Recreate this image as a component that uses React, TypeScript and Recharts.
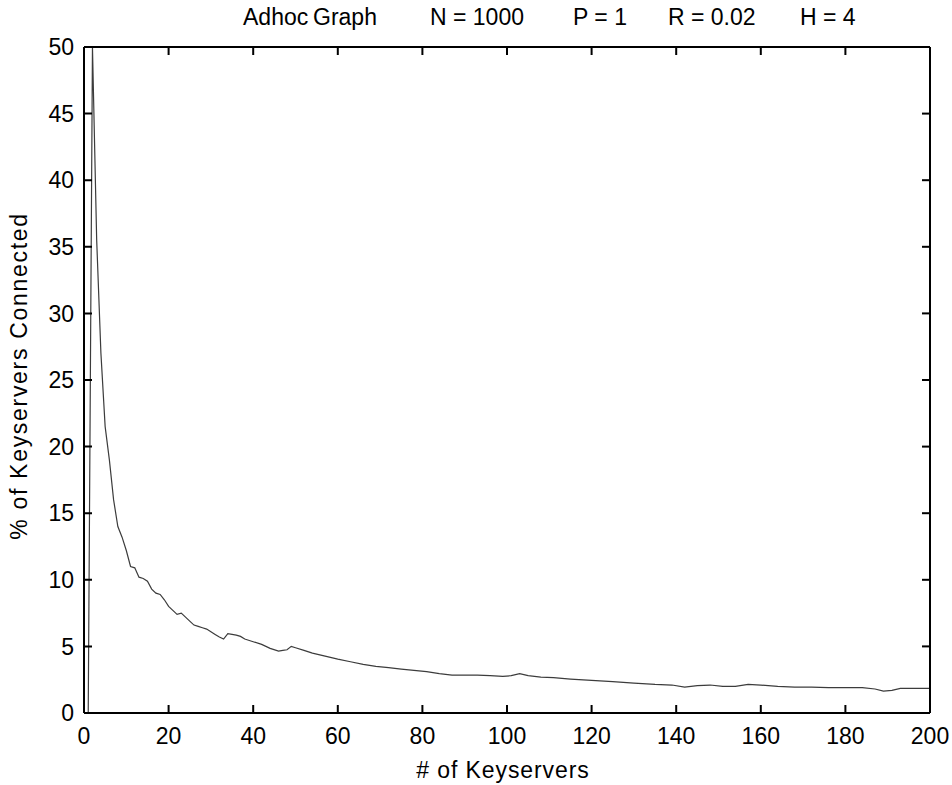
import { Label, Line, LineChart, XAxis, YAxis } from 'recharts'

// # of keyservers (x) and % connected (y)
const keyservers = [
  1, 2, 3, 4, 5, 6, 7, 8, 9, 10, 11, 12, 13, 14, 15, 16, 17, 18, 19, 20, 21, 22, 23, 24, 25, 26,
  27, 28, 29, 30, 31, 32, 33, 34, 35, 36, 37, 38, 40, 42, 44, 46, 47, 48, 49, 50, 52, 54, 56, 58,
  60, 63, 66, 69, 72, 75, 78, 81, 84, 87, 90, 93, 96, 99, 101, 103, 105, 108, 111, 115, 120, 125,
  130, 135, 139, 142, 145, 148, 151, 154, 157, 160, 164, 168, 172, 176, 180, 184, 187, 189, 191,
  193, 196, 200,
]
const pctConnected = [
  0, 50, 35.5, 27, 21.5, 19, 16, 14, 13.2, 12.2, 11, 10.9, 10.2, 10.1, 9.9, 9.3, 9, 8.9, 8.5, 8,
  7.7, 7.4, 7.5, 7.2, 6.9, 6.6, 6.5, 6.4, 6.3, 6.1, 5.9, 5.7, 5.55, 5.95, 5.9, 5.85, 5.75, 5.55,
  5.35, 5.15, 4.85, 4.65, 4.7, 4.75, 5.0, 4.9, 4.7, 4.5, 4.35, 4.2, 4.05, 3.85, 3.65, 3.5, 3.4,
  3.3, 3.2, 3.1, 2.95, 2.85, 2.85, 2.85, 2.8, 2.75, 2.8, 2.95, 2.8, 2.7, 2.65, 2.55, 2.45, 2.35,
  2.25, 2.15, 2.1, 1.95, 2.05, 2.1, 2.0, 2.0, 2.15, 2.1, 2.0, 1.95, 1.95, 1.9, 1.9, 1.9, 1.8,
  1.65, 1.7, 1.85, 1.85, 1.85,
]

const xTicks = [0, 20, 40, 60, 80, 100, 120, 140, 160, 180, 200]
const yTicks = [0, 5, 10, 15, 20, 25, 30, 35, 40, 45, 50]

const titleParts = ['Adhoc', 'Graph', 'N = 1000', 'P = 1', 'R = 0.02', 'H = 4']
const titleX = [243, 313, 430, 573, 668, 800]

const FONT = '"Liberation Sans", Arial, Helvetica, sans-serif'
const W = 952
const H = 785
const TICK = 8 // inward tick length, MATLAB style
const X_GAP = 15 // axis line -> top of x tick labels
const Y_GAP = 10 // axis line -> right edge of y tick labels
const LEAD = 10 // frame ticks start just outside the box

const rows = keyservers.map((k, i) => ({ k, v: pctConnected[i] }))

const axisLine = { stroke: '#000', strokeWidth: 2 }

// recharts only draws outward tick marks, so each tick draws its own inward mark:
// the path starts at the label anchor and a dash pattern shows only the inner part
const bottomTick = (p: any) => {
  const x = Number(p.x)
  const y = Number(p.y)
  return (
    <g>
      <path
        d={`M${x},${y}V${y - X_GAP - TICK}`}
        stroke="#000"
        strokeWidth={2}
        strokeDasharray={`0 ${X_GAP} ${TICK} 100`}
      />
      <text x={x} y={y} dy="0.71em" textAnchor="middle" fontSize={23} fontFamily={FONT} fill="#000">
        {p.payload.value}
      </text>
    </g>
  )
}

const leftTick = (p: any) => {
  const x = Number(p.x)
  const y = Number(p.y)
  return (
    <g>
      <path
        d={`M${x},${y}H${x + Y_GAP + TICK}`}
        stroke="#000"
        strokeWidth={2}
        strokeDasharray={`0 ${Y_GAP} ${TICK} 100`}
      />
      <text x={x} y={y} dy="0.36em" textAnchor="end" fontSize={23} fontFamily={FONT} fill="#000">
        {p.payload.value}
      </text>
    </g>
  )
}

const topTick = (p: any) => {
  const x = Number(p.x)
  const y = Number(p.y)
  return (
    <path
      d={`M${x},${y - LEAD}V${y + TICK}`}
      stroke="#000"
      strokeWidth={2}
      strokeDasharray={`0 ${LEAD} ${TICK} 100`}
    />
  )
}

const rightTick = (p: any) => {
  const x = Number(p.x)
  const y = Number(p.y)
  return <path d={`M${x},${y}H${x - TICK}`} stroke="#000" strokeWidth={2} />
}

const titleLabel = () => (
  <g fontFamily={FONT} fontSize={23} fill="#000">
    {titleParts.map((t, i) => (
      <text key={t} x={titleX[i]} y={25}>
        {t}
      </text>
    ))}
  </g>
)

const xLabel = () => (
  <text x={503} y={778} textAnchor="middle" letterSpacing={0.9} fontFamily={FONT} fontSize={23} fill="#000">
    # of Keyservers
  </text>
)

const yLabel = () => (
  <text
    x={27}
    y={376}
    textAnchor="middle"
    letterSpacing={1.7}
    transform="rotate(-90 27 376)"
    fontFamily={FONT}
    fontSize={23}
    fill="#000"
  >
    % of Keyservers Connected
  </text>
)

export default function App() {
  return (
    <div style={{ position: 'absolute', left: 0, top: 0, width: W, height: H, background: '#fff' }}>
      <LineChart width={W} height={H} data={rows} margin={{ top: 46, right: 21, bottom: 0, left: 0 }}>
        <XAxis
          dataKey="k"
          type="number"
          domain={[0, 200]}
          ticks={xTicks}
          height={72}
          axisLine={axisLine}
          tickLine={false}
          tickSize={0}
          tickMargin={X_GAP}
          tick={bottomTick}
        >
          <Label content={xLabel} />
        </XAxis>
        <XAxis
          xAxisId="top"
          dataKey="k"
          orientation="top"
          type="number"
          domain={[0, 200]}
          ticks={xTicks}
          height={1}
          axisLine={axisLine}
          tickLine={false}
          tickSize={0}
          tickMargin={0}
          tick={topTick}
        >
          <Label content={titleLabel} />
        </XAxis>
        <YAxis
          type="number"
          domain={[0, 50]}
          ticks={yTicks}
          width={84}
          axisLine={axisLine}
          tickLine={false}
          tickSize={0}
          tickMargin={Y_GAP}
          tick={leftTick}
        >
          <Label content={yLabel} />
        </YAxis>
        <YAxis
          yAxisId="right"
          orientation="right"
          type="number"
          domain={[0, 50]}
          ticks={yTicks}
          width={1}
          axisLine={axisLine}
          tickLine={false}
          tickSize={0}
          tickMargin={0}
          tick={rightTick}
        />
        {/* invisible twin so the top/right frame axes get a scale */}
        <Line
          xAxisId="top"
          yAxisId="right"
          type="linear"
          dataKey="v"
          stroke="none"
          dot={false}
          legendType="none"
          isAnimationActive={false}
        />
        <Line
          type="linear"
          dataKey="v"
          stroke="#3c3c3c"
          strokeWidth={1.2}
          dot={false}
          isAnimationActive={false}
        />
      </LineChart>
    </div>
  )
}
